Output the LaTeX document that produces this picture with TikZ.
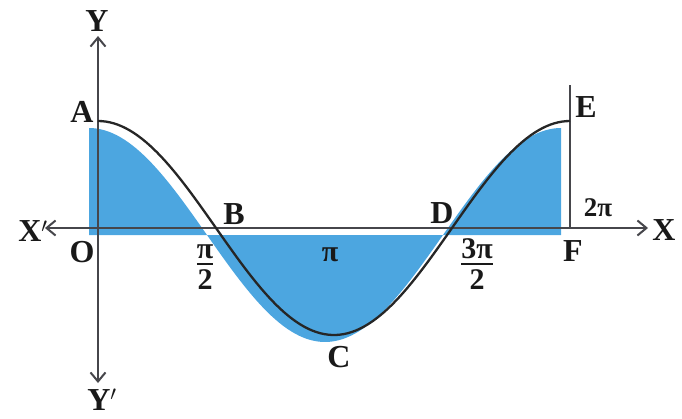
\documentclass[tikz,border=0pt]{standalone}
\usepackage{fontspec}
\setmainfont{Liberation Serif}
\usetikzlibrary{arrows.meta}
\definecolor{fillblue}{RGB}{76,166,224}
\definecolor{axisgray}{RGB}{70,70,75}
\tikzset{
  axis/.style={line width=2pt, draw=axisgray, -{Straight Barb[length=9pt,width=15pt,line width=2pt]}},
  curve/.style={line width=2.3pt, draw=black!85},
  lbl/.style={font=\fontsize{32}{32}\selectfont\bfseries, text=black!90, inner sep=0pt},
  num/.style={font=\fontsize{30}{30}\selectfont\bfseries, text=black!90, inner sep=0pt},
  smallnum/.style={font=\fontsize{27}{27}\selectfont\bfseries, text=black!90, inner sep=0pt},
}
\newcommand{\myfrac}[2]{{\setlength{\arrayrulewidth}{1.8pt}\begin{tabular}{@{}c@{}}#1\\[-4pt]\hline\rule{0pt}{25pt}#2\end{tabular}}}
\begin{document}
\begin{tikzpicture}[x=1pt,y=-1pt]
\useasboundingbox (0,0) rectangle (682,418);
% shaded area (slightly misregistered, as printed)
\fill[fillblue, shift={(-9,7)}] (98,228) -- plot[domain=0:360, samples=120] ({98+1.3111*\x},{228-107*cos(\x)}) -- (570,228) -- cycle;
% coordinates
\coordinate (O) at (98,228);
\coordinate (F) at (570,228);
\coordinate (Xend) at (648,228);
\coordinate (Xpend) at (45,228);
\coordinate (Yend) at (98,36);
\coordinate (Ypend) at (98,383);
\coordinate (Etop) at (570,85);
% axes
\draw[axis] (O) -- (Xend);
\draw[axis] (O) -- (Xpend);
\draw[axis] (O) -- (Yend);
\draw[axis] (O) -- (Ypend);
\draw[line width=2pt, draw=axisgray] (F) -- (Etop);
% curve
\draw[curve] plot[domain=0:360, samples=120] ({98+1.3111*\x},{228-107*cos(\x)});
% labels
\node[lbl] (lY) at (97,21) {Y};
\node[lbl, anchor=base] (lYp) at (102,410) {Y$'$};
\node[lbl] (lX) at (664,230) {X};
\node[lbl] (lXp) at (33,231) {X$'$};
\node[lbl] (lA) at (82,112) {A};
\node[lbl] (lO) at (82,252) {O};
\node[lbl] (lB) at (234,214) {B};
\node[lbl] (lC) at (339,357) {C};
\node[lbl] (lD) at (442,213) {D};
\node[lbl] (lE) at (586,107) {E};
\node[lbl] (lF) at (573,251) {F};
\node[smallnum] (l2pi) at (598,208) {2π};
\node[num] (lpi) at (330,255) {π};
\node[num] (lhalf) at (205,268) {\myfrac{π}{2}};
\node[num] (l3half) at (477,268) {\myfrac{3π}{2}};
\end{tikzpicture}
\end{document}
